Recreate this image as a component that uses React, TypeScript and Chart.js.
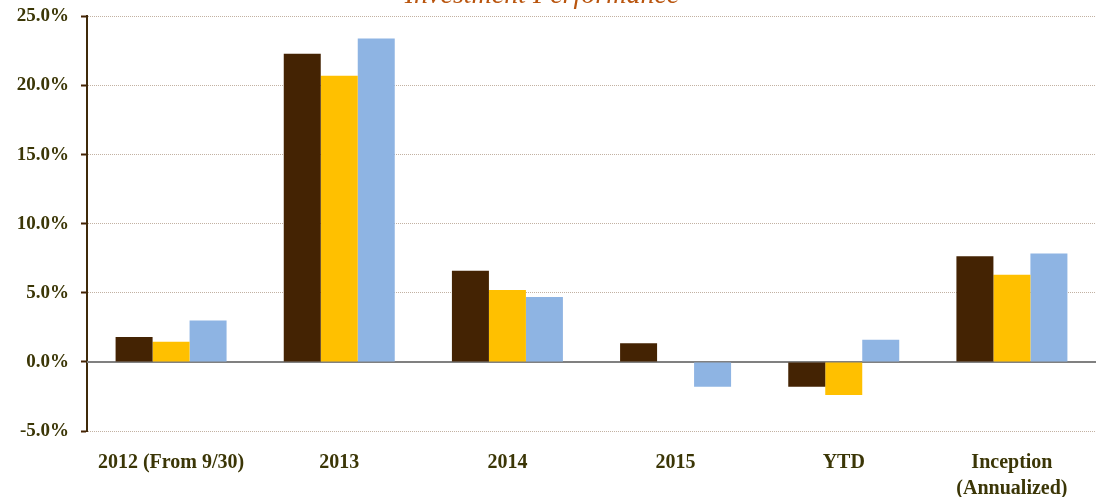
import React, { useEffect, useRef } from "react";
import { Chart, registerables } from "chart.js";

Chart.register(...registerables);

const categories: (string | string[])[] = [
  "2012 (From 9/30)",
  "2013",
  "2014",
  "2015",
  "YTD",
  ["Inception", "(Annualized)"],
];
const fundValues = [1.8, 22.3, 6.6, 1.35, -1.8, 7.65];
const benchmarkAValues = [1.45, 20.7, 5.2, 0, -2.4, 6.3];
const benchmarkBValues = [3.0, 23.4, 4.7, -1.8, 1.6, 7.85];
const yMin = -5;
const yMax = 25;
const yStep = 5;
const titleText = "Investment Performance";

const DARK = "#442303";
const YELLOW = "#FFC000";
const BLUE = "#8EB4E3";
const LABEL = "#3B3606";
const FONT = '"Liberation Serif", "Times New Roman", serif';
const SHIFT = 7;

export default function App() {
  const ref = useRef<HTMLCanvasElement | null>(null);

  useEffect(() => {
    if (!ref.current) return;
    const extras = {
      id: "extras",
      beforeDatasetsDraw(chart: any) {
        const { ctx, chartArea, scales } = chart;
        const y0 = scales.y.getPixelForValue(0);
        ctx.save();
        ctx.strokeStyle = "#808080";
        ctx.lineWidth = 2;
        ctx.beginPath();
        ctx.moveTo(chartArea.left, y0);
        ctx.lineTo(chartArea.right, y0);
        ctx.stroke();
        ctx.restore();
      },
      afterDraw(chart: any) {
        const { ctx } = chart;
        ctx.save();
        ctx.font = `italic 28px ${FONT}`;
        ctx.fillStyle = "#B9550E";
        ctx.textAlign = "center";
        ctx.textBaseline = "alphabetic";
        ctx.fillText(titleText, 542, 3 + SHIFT);
        ctx.restore();
      },
    };
    const chart = new Chart(ref.current, {
      type: "bar",
      data: {
        labels: categories as any,
        datasets: [
          { label: "Fund", data: fundValues, backgroundColor: DARK },
          { label: "Benchmark A", data: benchmarkAValues, backgroundColor: YELLOW },
          { label: "Benchmark B", data: benchmarkBValues, backgroundColor: BLUE },
        ],
      },
      options: {
        animation: false,
        responsive: true,
        maintainAspectRatio: false,
        layout: { padding: { top: 15, right: 3, left: 0, bottom: 0 } },
        datasets: { bar: { categoryPercentage: 0.66, barPercentage: 1.0 } },
        plugins: {
          legend: { display: false },
          tooltip: { enabled: false },
          title: { display: false },
        },
        scales: {
          x: {
            grid: { display: false, drawTicks: false },
            border: { display: false },
            ticks: {
              color: LABEL,
              padding: 19,
              font: { family: FONT, size: 20, weight: "bold", lineHeight: 1.3 },
              maxRotation: 0,
              autoSkip: false,
            },
            afterFit(scale: any) {
              scale.height = 66;
            },
          },
          y: {
            min: yMin,
            max: yMax,
            ticks: {
              stepSize: yStep,
              color: LABEL,
              padding: 12,
              font: { family: FONT, size: 19, weight: "bold" },
              callback: (v: any) => Number(v).toFixed(1) + "%",
            },
            grid: {
              color: (c: any) => (c.tick && c.tick.value === 0 ? "rgba(0,0,0,0)" : "#C2B1A2"),
              lineWidth: 1,
              drawTicks: true,
              tickLength: 6,
              tickColor: DARK,
              tickWidth: 2,
            },
            border: { display: true, color: "#3F2A0A", width: 2, dash: [1, 1] },
            afterFit(scale: any) {
              scale.width = 87;
            },
          },
        },
      },
      plugins: [extras],
    });
    return () => chart.destroy();
  }, []);

  return (
    <div style={{ position: "absolute", left: 0, top: -SHIFT, width: 1099, height: 497 + SHIFT }}>
      <canvas ref={ref} />
    </div>
  );
}
